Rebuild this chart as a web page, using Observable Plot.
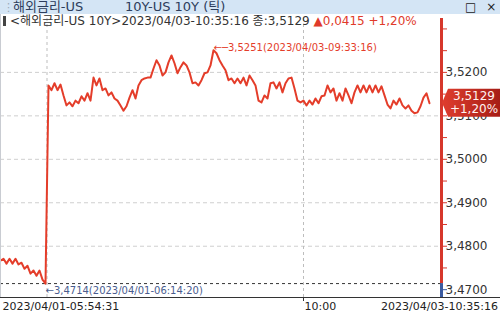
<!DOCTYPE html>
<html><head><meta charset="utf-8">
<script src="https://cdn.jsdelivr.net/npm/d3@7"></script>
<script src="https://cdn.jsdelivr.net/npm/@observablehq/plot@0.6"></script>
<style>
html,body{margin:0;padding:0;}
body{width:500px;height:316px;overflow:hidden;background:#fff;position:relative;font-family:"DejaVu Sans","Noto Sans CJK KR",sans-serif;}
#chart{position:absolute;left:0;top:0;}
#titlebar{position:absolute;left:0;top:0;width:500px;height:14px;background:#d4e5f5;color:#2d3d5c;font-size:13px;line-height:14px;white-space:nowrap;z-index:2;}
#titlebar .grip{position:absolute;left:3px;top:1px;color:#9aa8b8;font-size:11px;}
#titlebar .t1{position:absolute;left:13px;top:0;}
#titlebar .t2{position:absolute;left:125px;top:0;}
#titlebar .ic{position:absolute;left:465px;top:0;color:#222;font-size:12px;font-family:"DejaVu Sans";word-spacing:6px;}
#info{position:absolute;left:0;top:14px;height:14px;font-size:12px;line-height:14px;white-space:nowrap;color:#333;z-index:2;}
#info .bar{display:inline-block;width:3px;height:10px;background:#444;margin:0 4px 0 3px;vertical-align:-1px;}
#info .up{color:#e03a2a;}
#baseline{position:absolute;left:0;top:297px;width:500px;height:1px;background:#333;z-index:1;}
#leftedge{position:absolute;left:0;top:14px;width:1px;height:283px;background:#c9ccd2;z-index:1;}
</style></head><body>
<div id="titlebar"><span class="grip">⋮</span><span class="t1">해외금리-US</span><span class="t2">10Y-US 10Y (틱)</span><span class="ic">□ ×</span></div>
<div id="info"></div>
<div id="chart"></div>
<div id="baseline"></div>
<div id="leftedge"></div>
<script>
const seriesName = "<해외금리-US 10Y>";
const lastTime = "2023/04/03-10:35:16";
const prevClose = 3.4714;
const lastValue = 3.5129;
const change = 0.0415;
const changePct = 1.20;
const highTime = "2023/04/03-09:33:16";
const lowTime = "2023/04/01-06:14:20";

// ticks of 2023/04/01 session
const sessionApr01 = [3.4767,3.4771,3.4760,3.4771,3.4760,3.4771,3.4758,3.4762,3.4748,3.4755,3.4737,3.4744,3.4732,3.4744,3.4723,3.4714];
// ticks of 2023/04/03 session
const sessionApr03 = [
3.5170,3.5159,3.5175,3.5159,3.5172,3.5147,3.5124,3.5131,3.5122,3.5135,
3.5129,3.5145,3.5135,3.5152,3.5135,3.5188,3.5170,3.5186,3.5159,3.5163,
3.5147,3.5154,3.5140,3.5135,3.5124,3.5112,3.5122,3.5142,3.5159,3.5140,
3.5170,3.5182,3.5186,3.5188,3.5188,3.5209,3.5228,3.5216,3.5193,3.5200,
3.5223,3.5239,3.5221,3.5198,3.5212,3.5223,3.5216,3.5200,3.5175,3.5177,
3.5170,3.5182,3.5198,3.5200,3.5216,3.5251,3.5244,3.5228,3.5216,3.5205,
3.5182,3.5186,3.5175,3.5186,3.5175,3.5188,3.5170,3.5193,3.5182,3.5170,
3.5135,3.5131,3.5147,3.5140,3.5175,3.5177,3.5163,3.5177,3.5154,3.5175,
3.5186,3.5188,3.5163,3.5135,3.5131,3.5135,3.5124,3.5135,3.5126,3.5140,
3.5129,3.5145,3.5147,3.5170,3.5154,3.5163,3.5135,3.5152,3.5135,3.5163,
3.5147,3.5129,3.5154,3.5170,3.5154,3.5170,3.5154,3.5170,3.5154,3.5170,
3.5154,3.5168,3.5147,3.5126,3.5117,3.5135,3.5126,3.5140,3.5124,3.5117,
3.5124,3.5112,3.5106,3.5108,3.5122,3.5142,3.5152,3.5129];

const gridValues = [3.48, 3.49, 3.50, 3.51, 3.52];
const labelTicks = [3.47, 3.48, 3.49, 3.50, 3.51, 3.52];
const minorTicksUp = [3.475,3.480,3.485,3.490,3.495,3.500,3.505,3.510,3.515,3.520,3.525,3.530];
const minorTicksDown = [3.470];
const timeLabels = ["2023/04/01-05:54:31", "10:00", "2023/04/03-10:35:16"];
const tenOClockIndex = 101;
const yDomain = [3.4682, 3.5324];
const xDomainEnd = 147;

const values = sessionApr01.concat(sessionApr03);
const sessionBreak = sessionApr01.length - 0.5;
const data = values.map((v, i) => ({i, v}));
const fmt = v => v.toFixed(4).replace(".", ",");
const hi = data.reduce((a, b) => b.v > a.v ? b : a);
const lo = data.reduce((a, b) => b.v < a.v ? b : a);

const RED = "#e43d2a", AXRED = "#d6372b", BLUE = "#3b5ba0";

document.getElementById("info").innerHTML =
  `<span class="bar"></span>${seriesName.replace("<","&lt;").replace(">","&gt;")}${lastTime} 종:${fmt(lastValue)} <span class="up">▲${fmt(change)} +${changePct.toFixed(2).replace(".", ",")}%</span>`;

function priceBox(index, scales, vals, dims) {
  const x = scales.x(xDomainEnd), y = scales.y(lastValue);
  const g = d3.create("svg:g");
  const lg = g.append("defs").append("linearGradient").attr("id", "pbg").attr("x1", "0").attr("x2", "1").attr("y1", "0").attr("y2", "0");
  lg.append("stop").attr("offset", "0").attr("stop-color", "#df3d2e");
  lg.append("stop").attr("offset", "1").attr("stop-color", "#a61d16");
  g.append("path").attr("d", `M${x + 1},${y}L${x + 7},${y - 14}H${dims.width}V${y + 14}H${x + 7}Z`).attr("fill", "url(#pbg)");
  const cx = (x + 7 + dims.width) / 2;
  g.append("text").attr("x", cx).attr("y", y - 6).attr("text-anchor", "middle").attr("dominant-baseline", "middle")
    .attr("fill", "#fff2f0").attr("font-size", 12).text(fmt(lastValue));
  g.append("text").attr("x", cx).attr("y", y + 7).attr("text-anchor", "middle").attr("dominant-baseline", "middle")
    .attr("fill", "#fff2f0").attr("font-size", 12).text(`+${changePct.toFixed(2).replace(".", ",")}%`);
  return g.node();
}

const chart = Plot.plot({
  width: 500,
  height: 316,
  marginTop: 18,
  marginBottom: 19,
  marginLeft: 0,
  marginRight: 59,
  style: {fontFamily: "DejaVu Sans, Noto Sans CJK KR, sans-serif", fontSize: "11px", background: "#fff", overflow: "visible"},
  x: {domain: [0, xDomainEnd], axis: null, label: null},
  y: {domain: yDomain, axis: null, label: null},
  marks: [
    Plot.ruleY(gridValues, {stroke: "#cfcfcf", strokeDasharray: "4,3"}),
    Plot.ruleX([sessionBreak, tenOClockIndex], {stroke: "#bdbdbd", strokeDasharray: "3,3"}),
    Plot.ruleY([prevClose], {stroke: "#333", strokeDasharray: "3,3"}),
    Plot.line(data, {x: "i", y: "v", stroke: RED, strokeWidth: 2, strokeLinejoin: "round"}),
    Plot.ruleX([xDomainEnd], {y1: prevClose, y2: yDomain[1], stroke: AXRED, strokeWidth: 3}),
    Plot.ruleX([xDomainEnd], {y1: yDomain[0], y2: prevClose, stroke: BLUE, strokeWidth: 3}),
    Plot.axisY({anchor: "right", ticks: minorTicksUp, tickSize: 5, tickFormat: () => "", stroke: AXRED, label: null}),
    Plot.axisY({anchor: "right", ticks: minorTicksDown, tickSize: 5, tickFormat: () => "", stroke: BLUE, label: null}),
    Plot.text(labelTicks, {y: d => d, text: d => fmt(d), frameAnchor: "right", textAnchor: "start", dx: 4, fill: "#333", fontSize: 12, letterSpacing: 0.6}),
    Plot.axisX({ticks: [tenOClockIndex], tickSize: 4, tickFormat: () => "", stroke: "#333", label: null}),
    Plot.text([0], {x: d => d, text: () => timeLabels[0], frameAnchor: "bottom", textAnchor: "start", dx: 2, dy: 12, fill: "#222"}),
    Plot.text([tenOClockIndex], {x: d => d, text: () => timeLabels[1], frameAnchor: "bottom", textAnchor: "start", dx: 1, dy: 12, fill: "#222"}),
    Plot.text([xDomainEnd], {x: d => d, text: () => timeLabels[2], frameAnchor: "bottom", textAnchor: "middle", dx: -2, dy: 12, fill: "#222"}),
    Plot.text([hi], {x: "i", y: "v", text: d => `←─${fmt(d.v)}(${highTime})`, textAnchor: "start", dy: -2, fill: RED, fontSize: 10}),
    Plot.text([lo], {x: "i", y: "v", text: d => `←${fmt(d.v)}(${lowTime})`, textAnchor: "start", dy: 7, fill: "#4a5d8f", fontSize: 10}),
    priceBox
  ]
});
document.getElementById("chart").appendChild(chart);
</script>
</body></html>
